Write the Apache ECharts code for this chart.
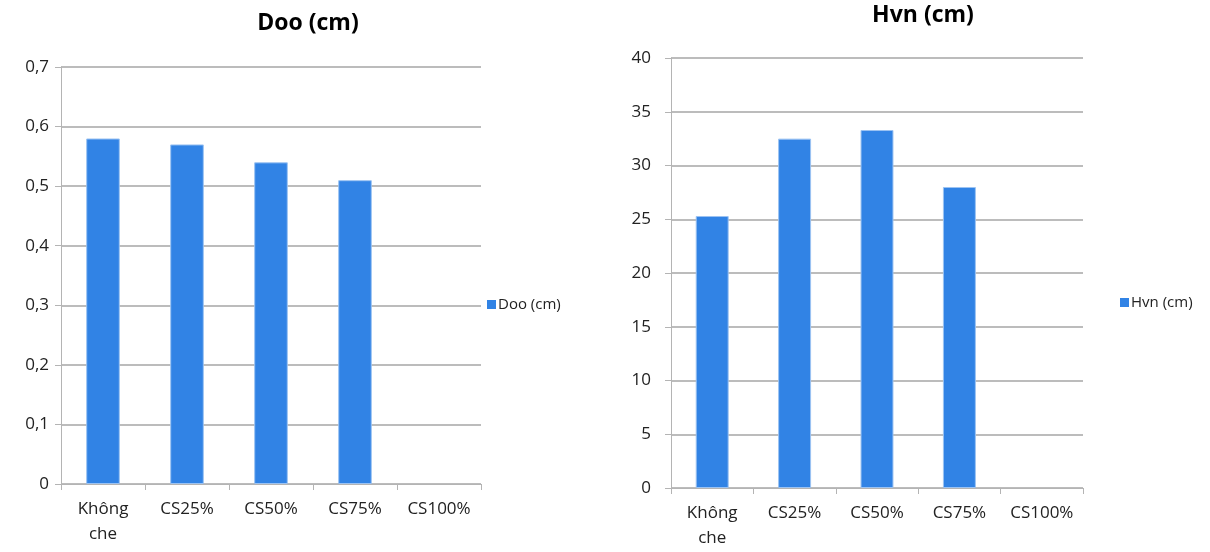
<!DOCTYPE html>
<html>
<head>
<meta charset="utf-8">
<script src="https://cdn.jsdelivr.net/npm/echarts@6/dist/echarts.min.js"></script>
<style>html,body{margin:0;padding:0;background:#fff}#c{width:1210px;height:552px}</style>
</head>
<body>
<div id="c"></div>
<script>
const categories = ["Không che", "CS25%", "CS50%", "CS75%", "CS100%"];
const dooValues = [0.58, 0.57, 0.54, 0.51, 0];
const hvnValues = [25.3, 32.5, 33.3, 28.0, 0];
const dooName = "Doo (cm)";
const hvnName = "Hvn (cm)";

const FONT = "Open Sans";
const barColor = "#3183e5";
const gridColor = "#a6a6a6";
const axisColor = "#b4b4b4";

function catAxis(gridIndex) {
  return {
    type: "category", gridIndex, data: categories,
    axisLine: { lineStyle: { color: axisColor, width: 1 } },
    axisTick: { show: true, length: 6, alignWithLabel: false, lineStyle: { color: axisColor } },
    axisLabel: { color: "#222", fontFamily: FONT, fontSize: 17, margin: 13, lineHeight: 25,
      formatter: v => v.replace(" ", "\n") }
  };
}
function valAxis(gridIndex, max, interval, comma, margin) {
  return {
    type: "value", gridIndex, min: 0, max, interval,
    axisLine: { show: true, lineStyle: { color: axisColor, width: 1 } },
    axisTick: { show: true, length: 6, lineStyle: { color: axisColor } },
    splitLine: { lineStyle: { color: gridColor, width: 1.5 } },
    axisLabel: { color: "#222", fontFamily: FONT, fontSize: 17, margin,
      formatter: v => comma ? String(Math.round(v * 10) / 10).replace(".", ",") : String(v) }
  };
}
function barData(values) {
  return values.map(v => ({ value: v, itemStyle: { borderWidth: v === 0 ? 0 : 1 } }));
}

const chart = echarts.init(document.getElementById("c"), null, { renderer: "canvas" });
chart.setOption({
  animation: false,
  backgroundColor: "#fff",
  title: [
    { text: dooName, left: 303, top: 7, textAlign: "center",
      textStyle: { fontFamily: FONT, fontWeight: "bold", fontSize: 23, color: "#000" } },
    { text: hvnName, left: 918, top: -1, textAlign: "center",
      textStyle: { fontFamily: FONT, fontWeight: "bold", fontSize: 23, color: "#000" } }
  ],
  legend: [
    { data: [dooName], left: 482, top: 292, itemWidth: 9, itemHeight: 9, itemGap: 4,
      icon: "rect", itemStyle: { borderWidth: 0 },
      textStyle: { fontFamily: FONT, fontSize: 15, color: "#222", padding: [0, 0, 0, -3] } },
    { data: [hvnName], left: 1115, top: 290, itemWidth: 9, itemHeight: 9, itemGap: 4,
      icon: "rect", itemStyle: { borderWidth: 0 },
      textStyle: { fontFamily: FONT, fontSize: 15, color: "#222", padding: [0, 0, 0, -3] } }
  ],
  grid: [
    { left: 61, right: 729, top: 67, bottom: 68, containLabel: false },
    { left: 671, right: 127, top: 58, bottom: 64, containLabel: false }
  ],
  xAxis: [catAxis(0), catAxis(1)],
  yAxis: [valAxis(0, 0.7, 0.1, true, 12), valAxis(1, 40, 5, false, 20)],
  series: [
    { name: dooName, type: "bar", xAxisIndex: 0, yAxisIndex: 0, data: barData(dooValues), barWidth: "40%",
      itemStyle: { color: barColor, borderColor: "#9cc3f2", borderWidth: 1 } },
    { name: hvnName, type: "bar", xAxisIndex: 1, yAxisIndex: 1, data: barData(hvnValues), barWidth: "40%",
      itemStyle: { color: barColor, borderColor: "#9cc3f2", borderWidth: 1 } }
  ]
});
</script>
</body>
</html>
